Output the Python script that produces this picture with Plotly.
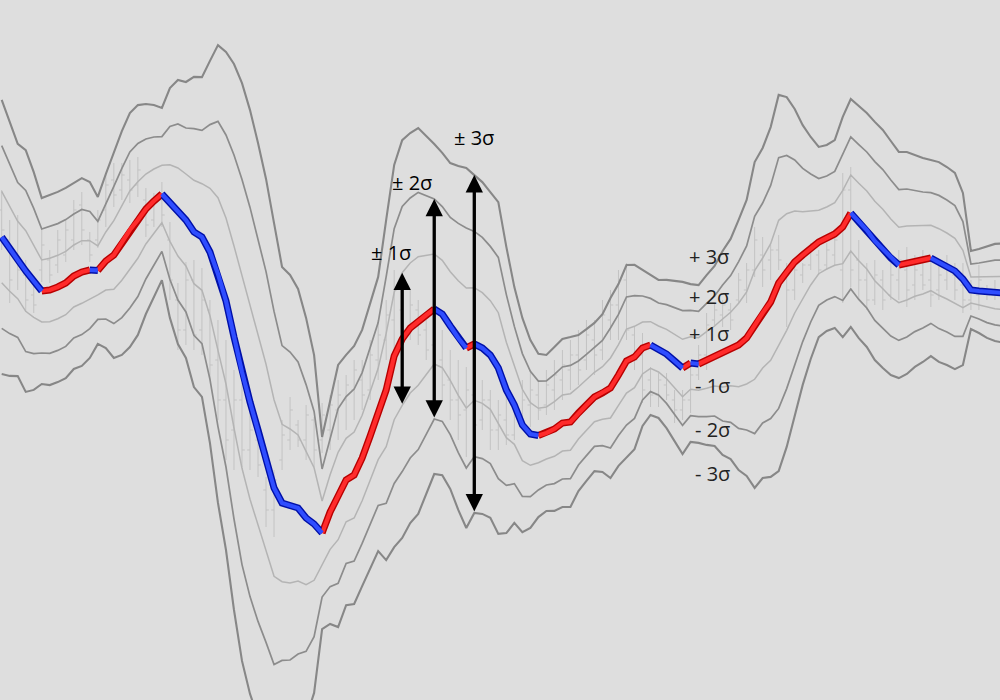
import numpy as np
import plotly.graph_objects as go

# ---------------- data (price units) ----------------
# moving average (middle band) per bar
mid = [463, 451, 440, 429, 419, 409, 410, 413, 417, 424,
       428, 430, 429.6, 439, 445, 457, 470, 480, 491, 499,
       506, 497, 488, 480, 468, 463, 448, 426, 399, 363,
       328, 298, 270, 243, 212, 197, 194, 192, 182, 176,
       167, 188, 204, 220, 225, 242, 264, 286, 310, 344,
       361, 372, 379, 385, 391, 386, 374, 362, 352, 356,
       352, 345, 332, 310, 295, 275, 266, 264.5, 267, 271,
       277, 278, 287, 295, 303, 307, 312, 325, 339, 343,
       352, 355, 351, 346, 339, 332, 337, 336, 340, 344,
       347, 351, 355, 362, 375, 387, 398, 417, 428, 438,
       445, 452, 458, 462, 466, 473, 487, 478, 470, 459,
       451, 442, 435, 437, 439, 440, 442, 438, 434, 429,
       421, 410, 409, 408, 407.5, 407]

# standard deviation per bar
sigma = [45.7, 42.3, 38.7, 40.3, 36.3, 31, 31.7, 31.7, 31.7, 31,
         31.3, 29.3, 24.5, 29, 34.3, 37.3, 39, 38.3, 35, 32,
         28.7, 38.3, 44, 46, 51.7, 53.3, 63.7, 76.3, 83, 91,
         96.3, 97.3, 95.7, 92.7, 88.3, 78.7, 77, 73, 66.7, 56.3,
         32, 37.3, 43.7, 41.7, 43, 42.7, 44.3, 45.7, 56.7, 63.7,
         66.3, 65, 64.3, 59.7, 55, 53.7, 54.3, 57.3, 60, 56.3,
         55.3, 54.3, 55.3, 47.7, 39.3, 35.7, 31.3, 27.2, 26, 27.3,
         28, 28.3, 26, 25.3, 24.7, 26.3, 30, 30.3, 32, 30.7,
         26, 23.3, 23, 24.7, 26.7, 28.7, 26.3, 26.3, 28.3, 30,
         34, 36.7, 41.7, 46, 54.3, 55, 58.3, 62.7, 58.3, 51,
         43.3, 37, 31.7, 31, 31.3, 36.7, 38, 38.7, 39, 39.7,
         39.7, 39, 37.7, 37, 35.3, 34, 32.7, 33.3, 33, 32.7,
         28.7, 13, 14, 15.3, 16.2, 16.5]

# price bars (OHLC)
high = [510, 480, 485, 440, 417, 472, 450, 470, 480, 500,
        508, 468, 490, 527, 537, 537, 540, 543, 512, 507,
        518, 478, 417, 438, 440, 432, 400, 380, 360, 330,
        317, 290, 267, 223, 230, 280, 303, 280, 295, 283,
        297, 305, 320, 325, 340, 340, 360, 380, 400, 430,
        400, 410, 400, 380, 370, 370, 350, 340, 333, 320,
        320, 310, 300, 310, 300, 320, 330, 320, 330, 340,
        350, 360, 370, 380, 380, 400, 410, 430, 437, 373,
        367, 333, 327, 327, 310, 310, 337, 355, 387, 397,
        400, 397, 427, 437, 473, 463, 455, 465, 437, 437,
        437, 457, 450, 457, 465, 527, 533, 460, 437, 440,
        430, 437, 450, 453, 445, 450, 440, 435, 445, 437,
        437, 420, 435, 415, 420, 415]
low = [450, 397, 410, 388, 387, 418, 417, 427, 438, 450,
       455, 438, 452, 473, 493, 500, 497, 503, 463, 473,
       473, 400, 350, 355, 350, 345, 320, 280, 240, 230,
       233, 230, 223, 173, 163, 230, 250, 253, 240, 233,
       247, 250, 260, 270, 280, 290, 300, 320, 340, 337,
       350, 360, 355, 340, 320, 300, 280, 260, 243, 250,
       270, 250, 250, 255, 260, 270, 273, 280, 285, 290,
       300, 310, 315, 330, 325, 340, 360, 360, 360, 330,
       297, 293, 293, 300, 277, 280, 287, 320, 330, 373,
       373, 370, 397, 397, 423, 413, 420, 430, 373, 400,
       417, 430, 425, 430, 435, 397, 413, 400, 390, 395,
       390, 400, 400, 393, 400, 410, 393, 400, 410, 400,
       387, 390, 390, 400, 400, 400]
open_ = [490, 460, 440, 425, 405, 430, 440, 435, 445, 460,
         495, 460, 460, 490, 520, 510, 520, 515, 500, 480,
         500, 460, 400, 370, 420, 370, 390, 340, 300, 270,
         300, 250, 260, 210, 190, 240, 260, 275, 260, 280,
         260, 270, 290, 300, 310, 320, 310, 340, 360, 380,
         390, 370, 390, 370, 355, 340, 320, 300, 290, 305,
         280, 300, 270, 280, 265, 285, 295, 305, 295, 310,
         320, 330, 345, 340, 360, 350, 380, 395, 420, 365,
         345, 320, 305, 315, 300, 290, 300, 325, 345, 380,
         385, 390, 400, 410, 430, 445, 440, 450, 430, 410,
         425, 435, 445, 435, 445, 430, 510, 440, 420, 400,
         420, 405, 420, 430, 415, 425, 420, 410, 420, 425,
         415, 400, 405, 410, 405, 410]
close = [470, 420, 430, 400, 395, 455, 425, 460, 470, 490,
         470, 445, 480, 515, 505, 525, 510, 530, 475, 500,
         485, 420, 370, 420, 365, 400, 335, 300, 260, 300,
         250, 270, 235, 190, 220, 265, 290, 260, 285, 250,
         285, 295, 305, 315, 330, 305, 345, 365, 385, 410,
         370, 395, 365, 350, 335, 315, 300, 285, 310, 275,
         300, 270, 285, 265, 285, 300, 310, 290, 315, 325,
         335, 345, 330, 365, 345, 385, 395, 420, 370, 340,
         310, 305, 320, 305, 290, 300, 325, 345, 375, 390,
         395, 380, 420, 430, 460, 430, 450, 440, 410, 430,
         435, 450, 430, 450, 460, 510, 430, 420, 400, 425,
         400, 425, 440, 410, 430, 415, 405, 425, 435, 410,
         400, 410, 420, 405, 410, 405]

band_k = [1, 2, 3]
band_colors = {1: "#b4b4b4", 2: "#8c8c8c", 3: "#878787"}
band_widths = {1: 1.5, 2: 1.7, 3: 2.1}

arrow_bars = [50, 54, 59]
arrow_k = [1, 2, 3]
arrow_labels = ["± 1σ", "± 2σ", "± 3σ"]
side_labels = ["+ 3σ", "+ 2σ", "+ 1σ", "- 1σ", "- 2σ", "- 3σ"]

# ---------------- figure ----------------
bars = list(range(len(mid)))
m = np.array(mid, dtype=float)
s = np.array(sigma, dtype=float)

fig = go.Figure()

fig.add_trace(go.Ohlc(
    x=bars, open=open_, high=high, low=low, close=close,
    increasing_line_color="#c3c3c3", decreasing_line_color="#c3c3c3",
    line_width=1, tickwidth=0.35, hoverinfo="skip", showlegend=False))

for k in band_k:
    for sign in (1, -1):
        fig.add_trace(go.Scatter(
            x=bars, y=m + sign * k * s, mode="lines",
            line=dict(color=band_colors[k], width=band_widths[k]),
            hoverinfo="skip", showlegend=False))

# middle band coloured by direction (rising red, falling blue)
runs = []
cur = None
for i in range(len(mid) - 1):
    d = "up" if mid[i + 1] > mid[i] else "down"
    if d != cur:
        runs.append((d, [i]))
        cur = d
    runs[-1][1].append(i + 1)

def seg_xy(direction):
    xs, ys = [], []
    for d, idx in runs:
        if d == direction:
            xs += idx + [None]
            ys += [mid[j] for j in idx] + [None]
    return xs, ys

styles = {"up": ("#b80000", "#ff2b2b"), "down": ("#0010a8", "#2f4dff")}
for d in ("up", "down"):
    xs, ys = seg_xy(d)
    fig.add_trace(go.Scatter(x=xs, y=ys, mode="lines",
                             line=dict(color=styles[d][0], width=7),
                             hoverinfo="skip", showlegend=False))
for d in ("up", "down"):
    xs, ys = seg_xy(d)
    fig.add_trace(go.Scatter(x=xs, y=ys, mode="lines",
                             line=dict(color=styles[d][1], width=4.2),
                             hoverinfo="skip", showlegend=False))

# double-headed arrows spanning +-k sigma
for b, k in zip(arrow_bars, arrow_k):
    fig.add_annotation(x=b, y=mid[b] + k * sigma[b], ax=b, ay=mid[b] - k * sigma[b],
                       xref="x", yref="y", axref="x", ayref="y", text="",
                       showarrow=True, arrowhead=2, startarrowhead=2,
                       arrowside="end+start", arrowwidth=3.3, arrowsize=1.05,
                       startarrowsize=1.05, arrowcolor="#000000")

label_font = dict(family="Open Sans", size=20, color="#000000")
label_pos = [(0.391, 0.640), (0.412, 0.740), (0.474, 0.803)]
for txt, (px, py) in zip(arrow_labels, label_pos):
    fig.add_annotation(x=px, y=py, xref="paper", yref="paper", text=txt,
                       showarrow=False, font=label_font, xanchor="center", yanchor="middle")

side_pos = [(0.709, 0.634), (0.709, 0.577), (0.709, 0.524),
            (0.712, 0.449), (0.712, 0.387), (0.712, 0.323)]
for txt, (px, py) in zip(side_labels, side_pos):
    fig.add_annotation(x=px, y=py, xref="paper", yref="paper", text=txt,
                       showarrow=False, font=dict(family="Open Sans", size=20, color="#222222"),
                       xanchor="center", yanchor="middle")

fig.update_layout(
    width=1000, height=700, margin=dict(l=0, r=0, t=0, b=0),
    paper_bgcolor="#dedede", plot_bgcolor="#dedede", showlegend=False,
    xaxis=dict(visible=False, range=[-0.212, 124.63], rangeslider=dict(visible=False)),
    yaxis=dict(visible=False, range=[0, 700]),
)

fig.write_html("out.html", config={"displayModeBar": False},
               post_script="document.body.style.margin='0';document.body.style.overflow='hidden';")
